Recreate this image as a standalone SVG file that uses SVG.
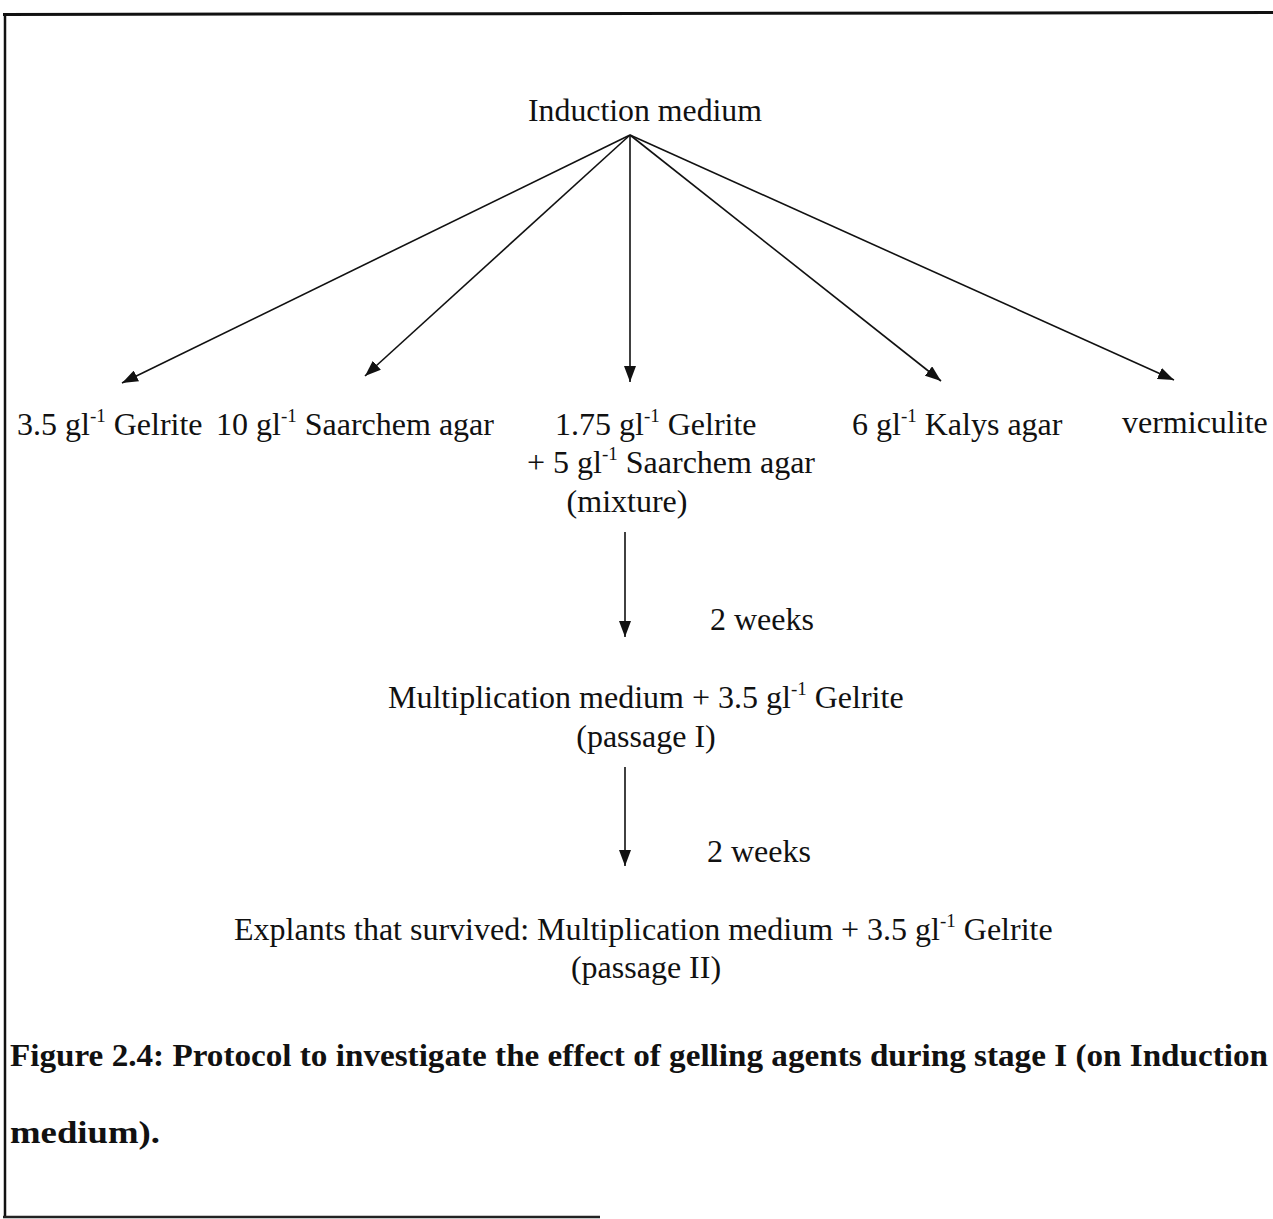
<svg xmlns="http://www.w3.org/2000/svg" width="1273" height="1219" viewBox="0 0 1273 1219">
<style>
text{font-family:"Liberation Serif","Times New Roman",serif;font-size:32px;fill:#111}
.sup{font-size:19px}
.cap{font-weight:bold;font-size:31px}
.ln{stroke:#111;stroke-width:1.6;fill:none}
</style>
<defs>
<marker id="ah" viewBox="0 0 16 12" refX="16" refY="6" markerWidth="16" markerHeight="12" markerUnits="userSpaceOnUse" orient="auto">
<path d="M0,0 L16,6 L0,12 Z" fill="#111"/>
</marker>
</defs>
<rect width="1273" height="1219" fill="#fff"/>
<g id="frame">
<line x1="3" y1="14.5" x2="1273" y2="12.5" stroke="#111" stroke-width="3"/>
<line x1="5" y1="13" x2="5" y2="1217" stroke="#111" stroke-width="2.5"/>
<line x1="3" y1="1217" x2="600" y2="1217" stroke="#222" stroke-width="2.5"/>
</g>
<g id="connectors">
<line class="ln" x1="630" y1="135" x2="122" y2="383" marker-end="url(#ah)"/>
<line class="ln" x1="630" y1="135" x2="365" y2="376" marker-end="url(#ah)"/>
<line class="ln" x1="630" y1="135" x2="630" y2="382" marker-end="url(#ah)"/>
<line class="ln" x1="630" y1="135" x2="941" y2="381" marker-end="url(#ah)"/>
<line class="ln" x1="630" y1="135" x2="1174" y2="380" marker-end="url(#ah)"/>
<line class="ln" x1="625" y1="532" x2="625" y2="637" marker-end="url(#ah)"/>
<line class="ln" x1="625" y1="767" x2="625" y2="866" marker-end="url(#ah)"/>
</g>
<g id="n-induction"><text x="645" y="121" text-anchor="middle" textLength="234" lengthAdjust="spacingAndGlyphs">Induction medium</text></g>
<g id="n-gelrite"><text x="17" y="435">3.5 gl<tspan class="sup" dy="-13">-1</tspan><tspan dy="13"> Gelrite</tspan></text></g>
<g id="n-saarchem"><text x="216" y="435">10 gl<tspan class="sup" dy="-13">-1</tspan><tspan dy="13"> Saarchem agar</tspan></text></g>
<g id="n-mixture">
<text x="555" y="435">1.75 gl<tspan class="sup" dy="-13">-1</tspan><tspan dy="13"> Gelrite</tspan></text>
<text x="527" y="473">+ 5 gl<tspan class="sup" dy="-13">-1</tspan><tspan dy="13"> Saarchem agar</tspan></text>
<text x="627" y="512" text-anchor="middle">(mixture)</text>
</g>
<g id="n-kalys"><text x="852" y="435">6 gl<tspan class="sup" dy="-13">-1</tspan><tspan dy="13"> Kalys agar</tspan></text></g>
<g id="n-vermiculite"><text x="1122" y="433">vermiculite</text></g>
<g id="l-weeks1"><text x="710" y="630">2 weeks</text></g>
<g id="n-passage1">
<text x="388" y="708">Multiplication medium + 3.5 gl<tspan class="sup" dy="-13">-1</tspan><tspan dy="13"> Gelrite</tspan></text>
<text x="646" y="747" text-anchor="middle">(passage I)</text>
</g>
<g id="l-weeks2"><text x="707" y="862">2 weeks</text></g>
<g id="n-passage2">
<text x="234" y="940">Explants that survived: Multiplication medium + 3.5 gl<tspan class="sup" dy="-13">-1</tspan><tspan dy="13"> Gelrite</tspan></text>
<text x="646" y="978" text-anchor="middle">(passage II)</text>
</g>
<g id="caption">
<text class="cap" x="10" y="1066" textLength="1258" lengthAdjust="spacingAndGlyphs">Figure 2.4: Protocol to investigate the effect of gelling agents during stage I (on Induction</text>
<text class="cap" x="10" y="1143" textLength="150" lengthAdjust="spacingAndGlyphs">medium).</text>
</g>
</svg>
